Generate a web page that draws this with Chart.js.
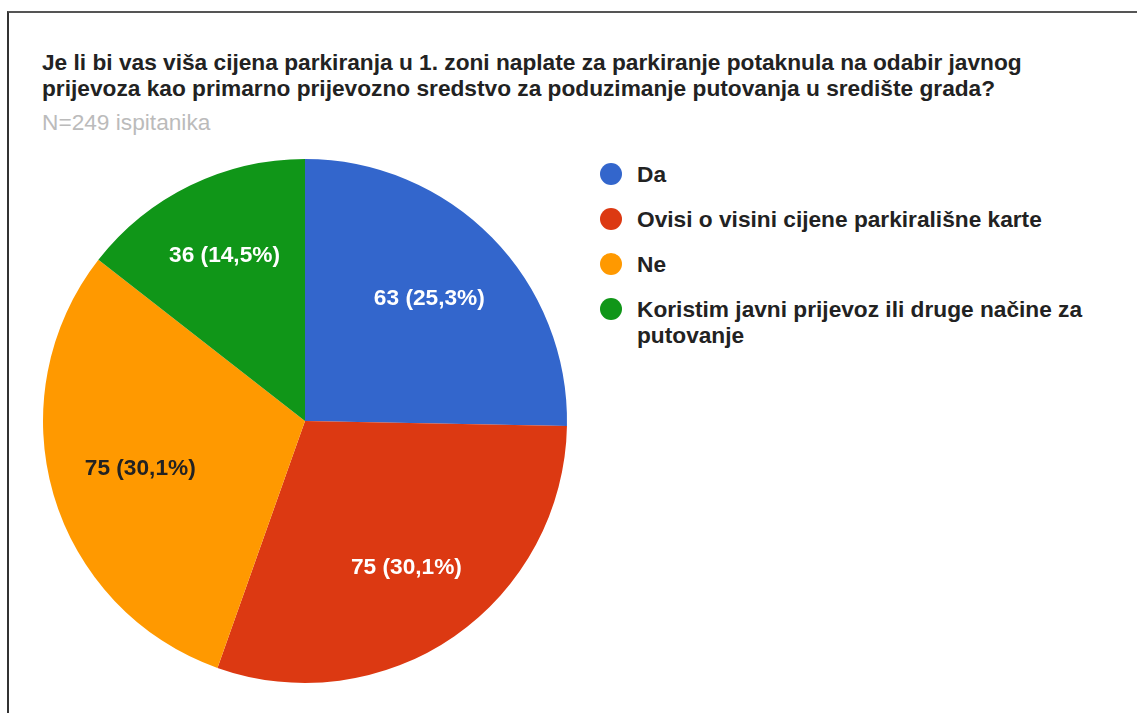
<!DOCTYPE html>
<html>
<head>
<meta charset="utf-8">
<script src="https://cdn.jsdelivr.net/npm/chart.js@4"></script>
<style>
  html, body { margin: 0; padding: 0; background: #fff; }
  body { width: 1137px; height: 713px; position: relative; overflow: hidden; font-family: "Liberation Sans", Arial, sans-serif; }
  #frame { position: absolute; left: 7px; top: 11px; width: 1140px; height: 720px; border-left: 2px solid #333; border-top: 2px solid #555; box-sizing: border-box; }
  #title { position: absolute; left: 42px; top: 49px; font-weight: bold; font-size: 22.7px; line-height: 26px; color: #222; white-space: nowrap; }
  #subtitle { position: absolute; left: 42px; top: 109px; font-size: 22.7px; line-height: 26px; color: #bbb; }
  #wrap { position: absolute; left: 35px; top: 151px; width: 540px; height: 540px; }
  #legend { position: absolute; left: 600px; top: 161px; width: 530px; }
  .item { position: relative; padding-left: 37px; font-weight: bold; font-size: 22.7px; line-height: 26px; color: #222; margin-bottom: 19px; max-width: 460px; }
  .dot { position: absolute; left: 0; top: 2px; width: 22px; height: 22px; border-radius: 50%; }
</style>
</head>
<body>
<div id="frame"></div>
<div id="title">Je li bi vas viša cijena parkiranja u 1. zoni naplate za parkiranje potaknula na odabir javnog<br>prijevoza kao primarno prijevozno sredstvo za poduzimanje putovanja u središte grada?</div>
<div id="subtitle">N=249 ispitanika</div>
<div id="wrap"><canvas id="c" width="540" height="540"></canvas></div>
<div id="legend"></div>
<script>
const categories = ["Da", "Ovisi o visini cijene parkirališne karte", "Ne", "Koristim javni prijevoz ili druge načine za putovanje"];
const values = [63, 75, 75, 36];
const percentLabels = ["25,3%", "30,1%", "30,1%", "14,5%"];
const colors = ["#3366cc", "#dc3912", "#ff9900", "#109618"];
const labelColors = ["#ffffff", "#ffffff", "#222222", "#ffffff"];
const labelRadiusFactor = [0.665, 0.68, 0.655, 0.70];

const legend = document.getElementById('legend');
categories.forEach((c, i) => {
  const d = document.createElement('div');
  d.className = 'item';
  d.innerHTML = '<span class="dot" style="background:' + colors[i] + '"></span>' + c;
  legend.appendChild(d);
});

const sliceLabels = {
  id: 'sliceLabels',
  afterDatasetsDraw(chart) {
    const ctx = chart.ctx;
    const meta = chart.getDatasetMeta(0);
    ctx.save();
    ctx.font = 'bold 22.7px "Liberation Sans", Arial, sans-serif';
    ctx.textAlign = 'center';
    ctx.textBaseline = 'middle';
    meta.data.forEach((arc, i) => {
      const p = arc.getProps(['x', 'y', 'startAngle', 'endAngle', 'outerRadius'], true);
      const mid = (p.startAngle + p.endAngle) / 2;
      const r = p.outerRadius * labelRadiusFactor[i];
      ctx.fillStyle = labelColors[i];
      ctx.fillText(values[i] + ' (' + percentLabels[i] + ')', p.x + Math.cos(mid) * r, p.y + Math.sin(mid) * r);
    });
    ctx.restore();
  }
};

new Chart(document.getElementById('c'), {
  type: 'pie',
  data: {
    labels: categories,
    datasets: [{ data: values, backgroundColor: colors, borderWidth: 0 }]
  },
  options: {
    responsive: false,
    animation: false,
    layout: { padding: 8 },
    plugins: { legend: { display: false }, tooltip: { enabled: false } }
  },
  plugins: [sliceLabels]
});
</script>
</body>
</html>
